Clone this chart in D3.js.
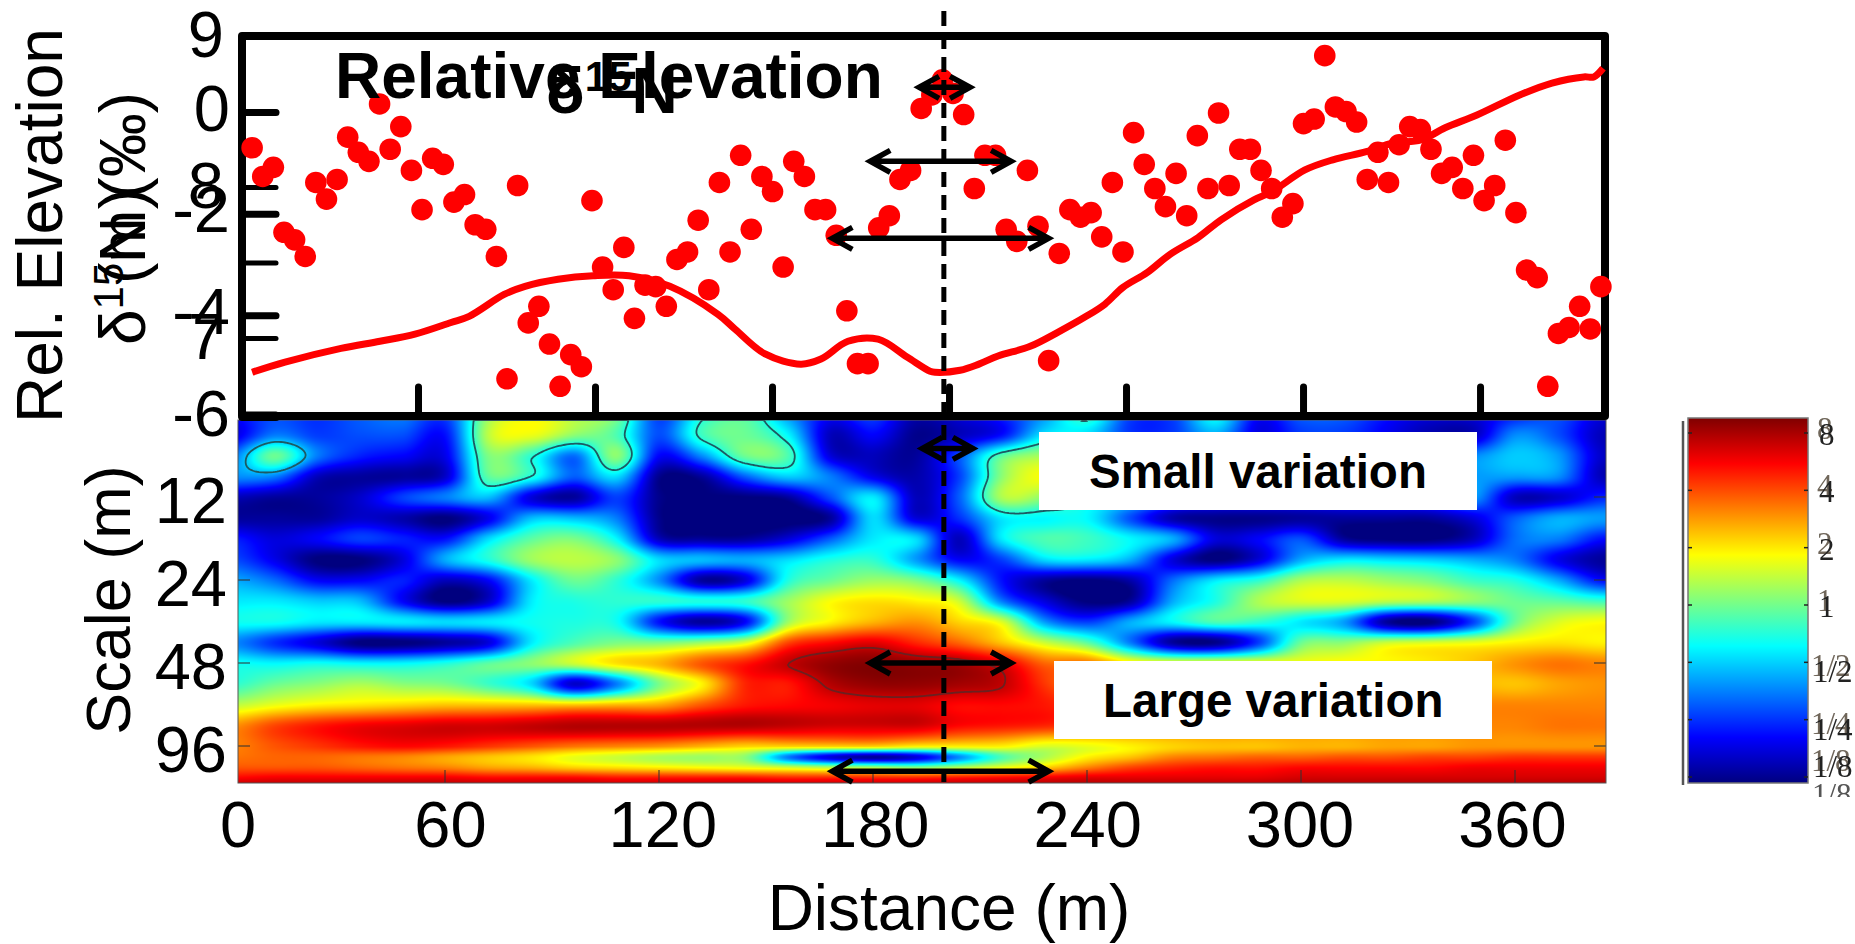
<!DOCTYPE html>
<html>
<head>
<meta charset="utf-8">
<title>Relative elevation and wavelet spectrum</title>
<script src="https://cdn.jsdelivr.net/npm/d3@7"></script>
<style>
    html, body { margin: 0; padding: 0; background: #fff; }
    svg { display: block; }
    text { font-family: "Liberation Sans", Arial, sans-serif; fill: #000; }
</style>
</head>
<body>
<div id="chart"></div>
<script>
// d15N samples, one every 3 m
var sampleDistance = [3,6,9,12,15,18,21,24,27,30,33,36,39,42,45,48,51,54,57,60,63,66,69,72,75,78,81,84,87,90,93,96,99,102,105,108,111,114,117,120,123,126,129,132,135,138,141,144,147,150,153,156,159,162,165,168,171,174,177,180,183,186,189,192,195,198,201,204,207,210,213,216,219,222,225,228,231,234,237,240,243,246,249,252,255,258,261,264,267,270,273,276,279,282,285,288,291,294,297,300,303,306,309,312,315,318,321,324,327,330,333,336,339,342,345,348,351,354,357,360,363,366,369,372,375,378,381,384];
var sampleDelta = [8.26,8.07,8.13,7.70,7.65,7.54,8.03,7.92,8.05,8.33,8.23,8.17,8.55,8.25,8.40,8.11,7.85,8.19,8.15,7.90,7.95,7.75,7.72,7.54,6.73,8.01,7.10,7.21,6.96,6.68,6.89,6.81,7.91,7.47,7.32,7.60,7.13,7.35,7.34,7.21,7.52,7.57,7.78,7.32,8.03,7.57,8.21,7.72,8.07,7.97,7.47,8.17,8.07,7.85,7.85,7.68,7.18,6.83,6.83,7.73,7.81,8.05,8.11,8.52,8.61,8.71,8.62,8.48,7.99,8.21,8.21,7.72,7.64,8.11,7.74,6.85,7.56,7.85,7.80,7.83,7.67,8.03,7.57,8.36,8.15,7.99,7.87,8.09,7.81,8.34,7.99,8.49,8.01,8.25,8.25,8.11,7.99,7.80,7.89,8.42,8.45,8.87,8.53,8.50,8.43,8.05,8.23,8.03,8.28,8.40,8.38,8.25,8.09,8.13,7.99,8.21,7.91,8.01,8.31,7.83,7.45,7.40,6.68,7.03,7.07,7.21,7.06,7.34];

// relative elevation profile
var elevDistance = [3,12.3,28.1,39.1,49,59.2,64.3,74.2,80.1,89.4,99.3,109.5,121,134.6,139.4,147.9,158,163.7,171.3,179.8,188,194.5,195.9,203,208.3,213.7,222.8,230.7,238.6,243.9,249,255.8,262.3,270.2,276.7,286,291,300.4,308.3,317.7,325.3,333.2,340,349,360.9,370.2,379.2,382,384.6];
var elevValue = [-5.12,-4.92,-4.65,-4.51,-4.37,-4.14,-4.02,-3.59,-3.43,-3.29,-3.22,-3.22,-3.43,-3.98,-4.27,-4.76,-4.96,-4.86,-4.51,-4.47,-4.82,-5.10,-5.12,-5.08,-4.96,-4.80,-4.61,-4.33,-4.02,-3.78,-3.45,-3.16,-2.80,-2.47,-2.12,-1.73,-1.57,-1.14,-0.94,-0.78,-0.61,-0.55,-0.31,-0.06,0.33,0.57,0.69,0.69,0.86];

// wavelet power (log2), rows are scales, columns distances
var heatColumns = [0,12,24,36,48,60,72,84,96,108,120,132,144,156,168,180,192,204,216,228,240,252,264,276,288,300,312,324,336,348,360,372,384];
var heatRows = [6,7.14,8.49,10.09,12,14.27,16.97,20.18,24,28.54,33.94,40.36,48,57.08,67.88,80.73,96,104.7,114.2,124.5,135.8];
var heatPower = [
    [-2.4,-1.9,-2.1,-1.8,-1.6,-2.0,0.2,0.8,0.4,0.0,-2.0,-0.6,-0.2,-1.4,-2.4,-2.0,-2.9,-2.6,-2.2,-1.4,-0.4,-2.0,-2.0,-0.7,-2.4,-1.8,-1.8,-2.3,-2.6,-2.6,-2.2,-1.9,-2.6],
    [-2.6,-1.6,-2.0,-1.9,-1.9,-2.3,0.4,0.7,0.1,-0.3,-1.9,-0.4,-0.1,-0.8,-2.8,-2.4,-3.1,-2.8,-2.3,-0.9,-0.9,-2.0,-2.0,-1.3,-2.5,-2.0,-2.0,-2.4,-2.8,-2.8,-1.5,-1.9,-2.8],
    [-1.7,-0.1,-1.6,-2.2,-2.4,-2.5,0.0,-0.5,-1.7,0.1,-2.4,-1.5,-0.1,-0.3,-2.6,-2.8,-3.0,-1.9,-0.2,0.3,0.4,-1.0,-1.5,-1.5,-1.5,-1.5,-1.5,-1.5,-1.5,-1.5,-1.1,-1.4,-2.7],
    [-1.5,-1.6,-2.8,-3.0,-3.0,-2.7,-0.2,-0.6,-1.8,-1.0,-3.1,-3.0,-1.8,-1.1,-1.6,-2.5,-2.9,-2.0,0.1,0.8,0.5,-0.8,-1.5,-1.5,-1.5,-1.5,-1.5,-1.5,-1.5,-1.4,-1.4,-1.5,-2.8],
    [-2.8,-3.0,-3.0,-2.7,-2.0,-1.6,-1.2,-2.6,-3.0,-2.0,-3.1,-3.2,-3.2,-3.0,-1.9,-0.9,-2.8,-1.8,0.3,0.1,-0.5,-0.9,-1.6,-2.0,-2.0,-2.0,-2.0,-2.0,-1.8,-1.4,-2.8,-2.7,-2.2],
    [-3.0,-3.0,-3.0,-2.7,-2.9,-3.2,-2.5,-1.2,-1.2,-1.6,-3.1,-3.3,-3.3,-3.3,-3.0,-1.0,-2.6,-2.1,-0.9,-0.8,-0.8,-1.9,-2.9,-3.1,-3.1,-3.0,-3.0,-3.0,-3.0,-2.6,-1.8,-1.3,-1.4],
    [-2.2,-2.6,-2.4,-2.0,-2.2,-2.3,-1.0,-0.2,0.0,-0.8,-2.8,-3.0,-3.0,-2.6,-1.8,-0.9,-1.0,-2.8,-0.9,-0.3,-0.4,-0.8,-1.3,-2.6,-2.4,-1.9,-3.0,-3.2,-3.2,-2.8,-1.7,-1.6,-2.3],
    [-1.9,-2.5,-3.2,-3.2,-2.6,-1.3,-0.6,0.2,0.4,0.1,-1.0,-1.2,-1.3,-1.0,-0.6,-0.5,-1.4,-2.4,-2.0,-1.0,-0.9,-1.3,-2.6,-3.2,-2.6,-1.3,-0.9,-1.0,-1.1,-1.3,-1.6,-2.5,-3.0],
    [-1.3,-1.7,-2.4,-2.4,-2.2,-2.8,-2.4,-0.9,-0.1,-0.5,-1.5,-3.0,-2.6,-0.6,-0.1,0.2,0.0,-0.8,-2.3,-3.0,-3.2,-2.9,-1.7,-0.9,-0.5,0.3,0.4,0.2,0.0,-0.4,-0.6,-1.3,-2.3],
    [-0.9,-0.9,-1.1,-1.2,-2.4,-3.2,-2.7,-0.9,-0.6,-0.5,-0.5,-0.6,-0.5,0.2,0.8,1.0,0.9,0.5,-1.6,-2.6,-3.2,-3.0,-1.3,-0.6,0.3,0.6,0.6,0.4,0.3,0.1,-0.1,-0.2,-0.4],
    [-0.7,-0.7,-0.9,-0.9,-0.9,-1.0,-0.9,-0.7,-0.6,-0.7,-2.3,-3.0,-2.4,0.2,0.9,1.3,1.5,1.1,0.6,-1.4,-2.0,-1.3,-0.8,-0.3,-0.5,-0.9,-1.4,-3.0,-3.2,-2.0,-0.1,0.6,0.8],
    [-1.5,-2.1,-2.6,-3.2,-3.2,-3.0,-2.6,-0.9,-0.3,0.0,0.0,0.2,0.6,2.0,2.4,2.6,2.2,1.8,1.2,0.5,-0.2,-1.6,-3.0,-3.1,-2.0,-0.1,0.1,0.5,0.6,0.7,0.9,1.0,0.9],
    [-0.7,-0.8,-0.7,-0.8,-0.8,-0.6,-0.2,0.1,0.5,1.0,1.3,1.9,2.3,2.8,3.1,3.2,3.1,3.0,2.6,1.8,1.7,1.0,0.8,0.8,0.8,0.8,0.9,0.9,1.0,1.2,1.5,1.7,1.6],
    [-0.5,-0.1,0.1,0.3,0.1,0.0,-0.4,-1.0,-2.7,-1.6,0.0,0.9,2.2,2.3,2.9,3.1,3.1,3.0,2.82,2.1,1.5,1.5,1.5,1.5,1.5,1.5,1.5,1.5,1.4,1.3,1.2,1.4,1.5],
    [0.4,0.7,0.9,1.0,1.1,1.2,1.2,1.2,1.2,1.3,1.4,1.9,2.3,2.4,2.5,2.6,2.6,2.4,2.4,2.3,2.0,1.8,1.7,1.7,1.7,1.7,1.7,1.7,1.6,1.6,1.6,1.6,1.6],
    [1.5,2.0,2.3,2.5,2.6,2.7,2.7,2.8,2.9,2.9,2.9,2.9,2.9,2.8,2.7,2.7,2.7,2.4,2.3,2.2,2.0,1.8,1.7,1.7,1.7,1.6,1.6,1.6,1.6,1.6,1.6,1.7,1.7],
    [1.6,1.9,2.1,2.3,2.4,2.3,2.1,1.9,1.7,1.6,1.5,1.3,1.1,1.1,1.1,1.1,0.9,0.9,0.9,0.6,0.7,0.9,1.1,1.2,1.2,1.3,1.3,1.4,1.4,1.5,1.5,1.5,1.5],
    [1.7,1.8,1.8,1.7,1.6,1.4,1.2,1.0,0.7,0.5,0.3,0.2,0.1,-1.6,-2.6,-3.0,-2.6,-1.5,-0.3,0.3,0.9,1.2,1.6,1.7,1.8,1.8,1.9,1.9,2.0,2.0,2.1,2.1,2.1],
    [1.9,1.9,1.9,1.8,1.7,1.6,1.4,1.3,1.1,1.0,0.9,0.8,0.7,0.5,0.3,0.2,0.0,0.3,0.7,1.1,1.6,2.0,2.2,2.3,2.3,2.4,2.4,2.4,2.4,2.5,2.5,2.5,2.5],
    [2.4,2.5,2.5,2.5,2.5,2.5,2.4,2.4,2.4,2.3,2.3,2.3,2.3,2.2,2.2,2.2,2.2,2.3,2.4,2.5,2.6,2.6,2.6,2.6,2.6,2.7,2.7,2.7,2.7,2.7,2.7,2.7,2.7],
    [3.0,3.0,3.0,3.0,3.0,3.0,3.0,3.0,3.0,3.0,3.0,3.0,3.0,3.0,3.0,3.0,3.0,3.0,3.0,3.0,3.0,3.0,3.0,3.0,3.0,3.0,3.0,3.0,3.0,3.0,3.0,3.0,3.0]
];

// tick labels and annotations
var topTickDistance = [50,100,150,200,250,300,350];
var distanceTicks = [0,60,120,180,240,300,360];
var elevTicks = [0,-2,-4,-6];
var deltaTicks = [9,8.5,8,7.5,7,6.5];
var deltaLabelled = [9,8,7];
var scaleTicks = [12,24,48,96];
var colorTicks = [8,4,2,1,0.5,0.25,0.125];
var colorLabels = ["8","4","2","1","1/2","1/4","1/8"];
var centerDistance = 198.4;
var topArrows = [[191.4,205.8,8.66],[177.6,217.4,8.17],[166.9,228,7.66]];
var bottomArrows = [[192.3,206.6,8],[177.6,217.4,48],[166.9,228,118.5]];

var svg = d3.select("#chart").append("svg")
        .attr("width", 1855)
        .attr("height", 944);

// scales
var xTop = d3.scaleLinear().domain([0, 384]).range([241.5, 1600.9]);
var xBottom = d3.scaleLinear().domain([60, 360]).range([445, 1515]);
var yDelta = d3.scaleLinear().domain([9, 7]).range([36, 338]);
var yElev = d3.scaleLinear().domain([0, -6]).range([112, 417]);
var yScaleLog = d3.scaleLog().base(2).domain([6, 96]).range([414, 746]);
var yColor = d3.scaleLog().base(2).domain([0.125, 8]).range([777, 433]);

// jet colormap, power 1/8..8 sits inside the colorbar range
var jet = d3.scaleLinear()
        .domain([0, 0.125, 0.375, 0.625, 0.875, 1])
        .range(["#00007f", "#0000ff", "#00ffff", "#ffff00", "#ff0000", "#7f0000"])
        .clamp(true);
var powerToT = d3.scaleLinear().domain([-3.18, 3.23]).range([0, 1]);

// heatmap panel
var heatLeft = 238, heatRight = 1606, heatTop = 420, heatBottom = 783;
var colIndex = d3.scaleLinear().domain(heatColumns.map(function (d) { return xBottom(d); })).range(d3.range(heatColumns.length));
var rowIndex = d3.scaleLinear().domain(heatRows.map(function (d) { return yScaleLog(d); })).range(d3.range(heatRows.length));

function cubic(p0, p1, p2, p3, t) {
    return 0.5 * (2 * p1 + (p2 - p0) * t + (2 * p0 - 5 * p1 + 4 * p2 - p3) * t * t + (3 * p1 - p0 - 3 * p2 + p3) * t * t * t);
}
function clampIndex(i, n) {
    return Math.max(0, Math.min(n - 1, i));
}
function powerAt(px, py) {
    var c = colIndex(px), r = rowIndex(py);
    var c0 = Math.floor(c), r0 = Math.floor(r);
    var rows = [];
    for (var k = -1; k <= 2; k++) {
        var row = heatPower[clampIndex(r0 + k, heatRows.length)];
        rows.push(cubic(row[clampIndex(c0 - 1, heatColumns.length)], row[clampIndex(c0, heatColumns.length)],
                row[clampIndex(c0 + 1, heatColumns.length)], row[clampIndex(c0 + 2, heatColumns.length)], c - c0));
    }
    return cubic(rows[0], rows[1], rows[2], rows[3], r - r0);
}

var heatW = heatRight - heatLeft, heatH = heatBottom - heatTop;
var canvas = document.createElement("canvas");
canvas.width = heatW;
canvas.height = heatH;
var ctx = canvas.getContext("2d");
var img = ctx.createImageData(heatW, heatH);
for (var j = 0; j < heatH; j++) {
    for (var i = 0; i < heatW; i++) {
        var rgb = d3.rgb(jet(powerToT(powerAt(heatLeft + i, heatTop + j))));
        var o = (j * heatW + i) * 4;
        img.data[o] = rgb.r;
        img.data[o + 1] = rgb.g;
        img.data[o + 2] = rgb.b;
        img.data[o + 3] = 255;
    }
}
ctx.putImageData(img, 0, 0);
svg.append("image")
        .attr("x", heatLeft)
        .attr("y", heatTop)
        .attr("width", heatW)
        .attr("height", heatH)
        .attr("href", canvas.toDataURL());

// significance contours
var step = 2;
var gridW = Math.floor(heatW / step), gridH = Math.floor(heatH / step);
function contourField(level, keep) {
    var values = new Float64Array(gridW * gridH);
    for (var j = 0; j < gridH; j++) {
        for (var i = 0; i < gridW; i++) {
            var px = heatLeft + i * step, py = heatTop + j * step;
            values[j * gridW + i] = keep(px, py) ? powerAt(px, py) : -9;
        }
    }
    return d3.contours().size([gridW, gridH]).thresholds([level])(values)[0];
}
var contourPath = d3.geoPath().projection(d3.geoIdentity().scale(step).translate([heatLeft, heatTop]));
svg.append("defs").append("clipPath").attr("id", "heat-clip").append("rect")
        .attr("x", heatLeft).attr("y", heatTop).attr("width", heatW).attr("height", heatH);
var contourGroup = svg.append("g").attr("clip-path", "url(#heat-clip)")
        .attr("fill", "none")
        .attr("stroke", "#1d5a63")
        .attr("stroke-width", 1.8);
contourGroup.append("path").attr("d", contourPath(contourField(-1.15, function (px, py) { return px < 340 && py < 500; })));
contourGroup.append("path").attr("d", contourPath(contourField(-0.55, function (px, py) { return px >= 340 && py < 515; })));
contourGroup.append("path").attr("stroke", "#6a2020")
        .attr("d", contourPath(contourField(2.8, function (px, py) { return py > 640 && py < 710 && px > 770 && px < 1050; })));

// small ticks on the heatmap
var heatAxis = svg.append("g").attr("stroke", "#333").attr("stroke-width", 1.5).attr("opacity", 0.7);
heatAxis.selectAll("line.b").data(distanceTicks.slice(1)).enter().append("line")
        .attr("x1", function (d) { return xBottom(d); })
        .attr("x2", function (d) { return xBottom(d); })
        .attr("y1", heatBottom)
        .attr("y2", heatBottom - 13);
heatAxis.selectAll("line.l").data(scaleTicks.slice(1)).enter().append("line")
        .attr("x1", heatLeft)
        .attr("x2", heatLeft + 12)
        .attr("y1", function (d) { return yScaleLog(d); })
        .attr("y2", function (d) { return yScaleLog(d); });
heatAxis.selectAll("line.r").data(scaleTicks).enter().append("line")
        .attr("x1", heatRight)
        .attr("x2", heatRight - 12)
        .attr("y1", function (d) { return yScaleLog(d); })
        .attr("y2", function (d) { return yScaleLog(d); });
svg.append("rect")
        .attr("x", heatLeft).attr("y", heatTop).attr("width", heatW).attr("height", heatH)
        .attr("fill", "none").attr("stroke", "#555").attr("stroke-width", 1);

// white note boxes
var notes = svg.append("g");
function addNote(label, bx, by, bw, bh, tx, ty) {
    notes.append("rect").attr("x", bx).attr("y", by).attr("width", bw).attr("height", bh).attr("fill", "#fff");
    notes.append("text").attr("x", tx).attr("y", ty)
            .attr("font-size", 47.5).attr("font-weight", "bold").text(label);
}
addNote("Small variation", 1039, 432, 438, 78, 1089, 488);
addNote("Large variation", 1054, 661, 438, 78, 1103, 717);

// top panel frame and inner ticks
svg.append("rect")
        .attr("x", 242).attr("y", 36).attr("width", 1363).attr("height", 380)
        .attr("fill", "none").attr("stroke", "#000").attr("stroke-width", 8).attr("stroke-linejoin", "round");

var elevAxis = svg.append("g").attr("transform", "translate(242,0)")
        .call(d3.axisLeft(yElev).tickValues(elevTicks).tickSize(-34).tickPadding(12)
                .tickFormat(function (d) { return "" + d; }));
var deltaAxis = svg.append("g").attr("transform", "translate(242,0)")
        .call(d3.axisLeft(yDelta).tickValues(deltaTicks).tickSize(-34).tickPadding(18)
                .tickFormat(function (d) { return deltaLabelled.indexOf(d) >= 0 ? d : ""; }));
[elevAxis, deltaAxis].forEach(function (ax) {
    ax.select(".domain").remove();
    ax.selectAll("text").attr("font-size", 65).attr("font-family", "Liberation Sans, Arial, sans-serif");
    ax.selectAll("line").attr("stroke", "#000").attr("stroke-width", 7).attr("stroke-linecap", "round");
});
elevAxis.selectAll("text").attr("dy", "0.28em");
deltaAxis.selectAll("line").attr("stroke-width", 5);

svg.selectAll("line.topTick").data(topTickDistance).enter().append("line")
        .attr("class", "topTick")
        .attr("x1", function (d) { return xTop(d); })
        .attr("x2", function (d) { return xTop(d); })
        .attr("y1", 416)
        .attr("y2", 387)
        .attr("stroke", "#000")
        .attr("stroke-width", 7)
        .attr("stroke-linecap", "round");

// elevation line
var line = d3.line()
        .x(function (d, i) { return xTop(elevDistance[i]); })
        .y(function (d) { return yElev(d); })
        .curve(d3.curveCatmullRom);
svg.append("path").datum(elevValue)
        .attr("d", line)
        .attr("fill", "none")
        .attr("stroke", "#ff0000")
        .attr("stroke-width", 7);

// d15N points
svg.selectAll("circle.sample").data(sampleDelta).enter().append("circle")
        .attr("class", "sample")
        .attr("cx", function (d, i) { return xTop(sampleDistance[i]); })
        .attr("cy", function (d) { return yDelta(d); })
        .attr("r", 10.8)
        .attr("fill", "#ff0000");

// panel titles
svg.append("text").attr("x", 335).attr("y", 98)
        .attr("font-size", 64).attr("font-weight", "bold").text("Relative Elevation");
var deltaTitle = svg.append("text").attr("x", 546).attr("y", 113)
        .attr("font-size", 64).attr("font-weight", "bold");
deltaTitle.append("tspan").text("δ");
deltaTitle.append("tspan").attr("font-size", 42).attr("dy", -22).text("15");
deltaTitle.append("tspan").attr("dy", 22).text("N");

// scale axis labels
var scaleAxis = svg.append("g").attr("transform", "translate(238,5)")
        .call(d3.axisLeft(yScaleLog).tickValues(scaleTicks).tickSize(0).tickPadding(11).tickFormat(d3.format("d")));
scaleAxis.select(".domain").remove();
scaleAxis.selectAll("text").attr("font-size", 65).attr("font-family", "Liberation Sans, Arial, sans-serif");

// distance axis labels
var distAxis = svg.append("g").attr("transform", "translate(-4,785)")
        .call(d3.axisBottom(xTop).tickValues(distanceTicks).tickSize(0).tickPadding(16).tickFormat(d3.format("d")));
distAxis.select(".domain").remove();
distAxis.selectAll("text").attr("font-size", 65).attr("font-family", "Liberation Sans, Arial, sans-serif");

// axis titles
svg.append("text").attr("x", 949).attr("y", 930).attr("text-anchor", "middle")
        .attr("font-size", 64).text("Distance (m)");
svg.append("text").attr("transform", "translate(130,600) rotate(-90)").attr("text-anchor", "middle")
        .attr("font-size", 63).text("Scale (m)");
svg.append("text").attr("transform", "translate(62,423) rotate(-90)")
        .attr("font-size", 64).text("Rel. Elevation");
svg.append("text").attr("transform", "translate(145,236) rotate(-90)").attr("text-anchor", "middle")
        .attr("font-size", 64).text("(m)");
var deltaLabel = svg.append("text").attr("transform", "translate(145,345) rotate(-90)")
        .attr("font-size", 64);
deltaLabel.append("tspan").text("δ");
deltaLabel.append("tspan").attr("font-size", 42).attr("dy", -22).text("15");
deltaLabel.append("tspan").attr("dy", 22).text("N (‰)");

// dashed marker line
svg.append("line")
        .attr("x1", xTop(centerDistance))
        .attr("x2", xTop(centerDistance))
        .attr("y1", 11)
        .attr("y2", 782)
        .attr("stroke", "#000")
        .attr("stroke-width", 5)
        .attr("stroke-dasharray", "15 8");

// double headed arrows
function arrowPath(x1, x2, y) {
    var h = 20, w = 11;
    return "M" + (x1 + h) + "," + (y - w) + "L" + x1 + "," + y + "L" + (x1 + h) + "," + (y + w)
            + "M" + x1 + "," + y + "L" + x2 + "," + y
            + "M" + (x2 - h) + "," + (y - w) + "L" + x2 + "," + y + "L" + (x2 - h) + "," + (y + w);
}
var arrowGroup = svg.append("g").attr("fill", "none").attr("stroke", "#000").attr("stroke-width", 5.5);
arrowGroup.selectAll("path.top").data(topArrows).enter().append("path")
        .attr("d", function (d) { return arrowPath(xTop(d[0]), xTop(d[1]), yDelta(d[2])); });
arrowGroup.selectAll("path.bot").data(bottomArrows).enter().append("path")
        .attr("d", function (d) { return arrowPath(xTop(d[0]), xTop(d[1]), yScaleLog(d[2])); });

// colorbar
var barLeft = 1688, barRight = 1808, barTop = 418, barBottom = 783;
var grad = svg.select("defs").append("linearGradient")
        .attr("id", "jet-grad").attr("x1", 0).attr("x2", 0).attr("y1", 1).attr("y2", 0);
jet.domain().forEach(function (t) {
    grad.append("stop").attr("offset", t).attr("stop-color", jet(t));
});
svg.append("rect")
        .attr("x", barLeft).attr("y", barTop).attr("width", barRight - barLeft).attr("height", barBottom - barTop)
        .attr("fill", "url(#jet-grad)").attr("stroke", "#777").attr("stroke-width", 1.5);
svg.append("line")
        .attr("x1", barLeft - 5).attr("x2", barLeft - 5).attr("y1", barTop + 3).attr("y2", barBottom + 2)
        .attr("stroke", "#555").attr("stroke-width", 2.5);
var barTicks = svg.append("g").attr("stroke", "#222").attr("stroke-width", 1.5);
barTicks.selectAll("line.l").data(colorTicks).enter().append("line")
        .attr("x1", barLeft).attr("x2", barLeft + 4)
        .attr("y1", function (d) { return yColor(d); }).attr("y2", function (d) { return yColor(d); });
barTicks.selectAll("line.r").data(colorTicks).enter().append("line")
        .attr("x1", barRight).attr("x2", barRight - 4)
        .attr("y1", function (d) { return yColor(d); }).attr("y2", function (d) { return yColor(d); });

var blur = svg.select("defs").append("filter").attr("id", "soft");
blur.append("feGaussianBlur").attr("stdDeviation", 0.6);
svg.select("defs").append("clipPath").attr("id", "page-clip").append("rect")
        .attr("x", 1800).attr("y", 400).attr("width", 55).attr("height", 397);

// the labels are printed twice in the source picture
var barLabels = svg.append("g").attr("filter", "url(#soft)").attr("clip-path", "url(#page-clip)");
function colorLabelCopy(name, dx, dy, fill) {
    barLabels.selectAll("text." + name).data(colorTicks).enter().append("text")
            .attr("class", name)
            .attr("x", function (d, i) { return (colorLabels[i].length > 1 ? 1812 : 1818) + dx; })
            .attr("y", function (d, i) { return yColor(d) + dy + (colorLabels[i].length > 1 && d > 0.125 ? 8 : 0) - (d == 0.125 ? 12 : 0); })
            .style("font-family", "'Liberation Serif', 'Times New Roman', serif")
            .style("fill", fill)
            .attr("font-size", 31)
            .text(function (d, i) { return colorLabels[i]; });
}
colorLabelCopy("copyA", -1, 6, "#6f665a");
colorLabelCopy("copyB", 1, 12, "#222");
barLabels.append("text").attr("x", 1812).attr("y", 805)
        .style("font-family", "'Liberation Serif', 'Times New Roman', serif")
        .style("fill", "#555").attr("font-size", 31).text("1/8");
</script>
</body>
</html>
